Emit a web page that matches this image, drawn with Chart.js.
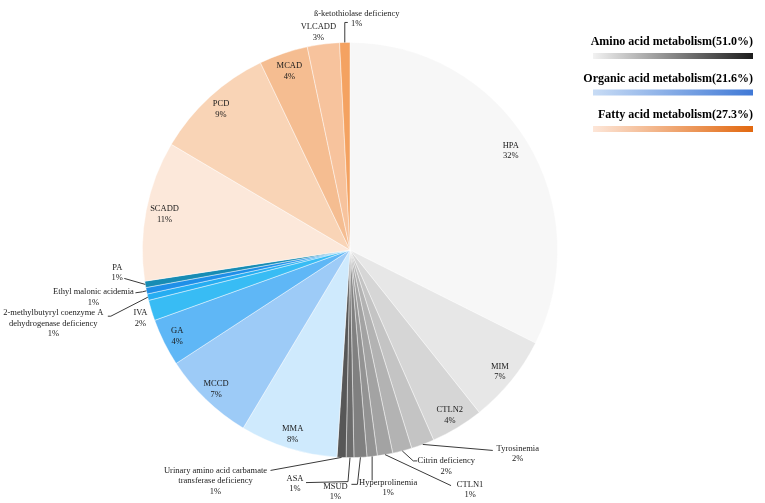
<!DOCTYPE html>
<html>
<head>
<meta charset="utf-8">
<script src="https://cdn.jsdelivr.net/npm/chart.js@4.4.0/dist/chart.umd.min.js"></script>
<style>
  html, body { margin: 0; padding: 0; background: #fff; }
  #wrap { width: 765px; height: 503px; position: relative; }
</style>
</head>
<body>
<div id="wrap"><canvas id="pie"></canvas></div>
<script>
// diseases, clockwise from 12 o'clock
const categories = [
  'HPA', 'MIM', 'CTLN2', 'Tyrosinemia', 'Citrin deficiency', 'CTLN1',
  'Hyperprolinemia', 'MSUD', 'ASA',
  'Urinary amino acid carbamate\ntransferase deficiency',
  'MMA', 'MCCD', 'GA', 'IVA',
  '2-methylbutyryl coenzyme A\ndehydrogenase deficiency',
  'Ethyl malonic acidemia', 'PA',
  'SCADD', 'PCD', 'MCAD', 'VLCADD', 'ß-ketothiolase deficiency'
];
// share of all cases, %
const shares = [
  32.4, 6.9, 4.1, 1.8, 1.5, 1.2, 0.8, 1.0, 0.6, 0.7,
  7.6, 7.2, 3.7, 1.6, 0.5, 0.5, 0.5,
  10.9, 9.4, 3.8, 2.5, 0.8
];
const groups = ['Amino acid metabolism', 'Organic acid metabolism', 'Fatty acid metabolism'];
const groupShares = [51.0, 21.6, 27.3];

const sliceColors = [
  '#f7f7f7', '#e7e7e7', '#d6d6d6', '#c4c4c4', '#b3b3b3', '#a3a3a3',
  '#939393', '#808080', '#6c6c6c', '#575757',
  '#cfeafd', '#9dcbf7', '#5fb7f6', '#38bcf4', '#26adf1', '#1f8fe8', '#178cb4',
  '#fce8da', '#f9d4b6', '#f5bd91', '#f7c39d', '#f4a261'
];
const groupRamps = [['#f2f2f2', '#1c1c1c'], ['#c8dcf5', '#4079d6'], ['#fde6d8', '#e2680f']];

// k: label inside at k * radius; otherwise at/path are offsets from the slice's outer edge midpoint
const placement = [
  {k: 0.91}, {k: 0.93}, {k: 0.93},
  {at: [95, 4], path: [[70, 6]]},
  {at: [44, 10], path: [[11, 10], [15, 10]]},
  {at: [85, 30], path: [[66, 31]]},
  {at: [16, 26], path: [[0, 24]]},
  {at: [-25, 29], path: [[-3, 27], [-9, 27]]},
  {at: [-55, 21], path: [[-2, 24], [-44, 25]]},
  {at: [-126, 13], path: [[-71, 13]]},
  {k: 0.93}, {k: 0.93}, {k: 0.93},
  {at: [-11, 2.5]},
  {at: [-94.5, 16], path: [[-37, 19], [-40, 19]]},
  {at: [-53, 1], path: [[-4, 1], [-11, 2]]},
  {at: [-28, -17], path: [[-21, -6]]},
  {k: 0.91}, {k: 0.92}, {k: 0.91},
  {at: [-5, -17]},
  {at: [12, -29], path: [[0, -20], [3, -20]]}
];

const LH = 10.5;

const sliceLabels = {
  id: 'sliceLabels',
  afterDatasetsDraw(chart) {
    const ctx = chart.ctx;
    const meta = chart.getDatasetMeta(0);
    const total = shares.reduce((a, b) => a + b, 0);
    ctx.save();
    ctx.font = '8.5px "Liberation Serif"';
    ctx.fillStyle = '#1a1a1a';
    ctx.strokeStyle = '#3a3a3a';
    ctx.lineWidth = 1;
    ctx.textAlign = 'center';
    ctx.textBaseline = 'middle';
    meta.data.forEach((arc, i) => {
      const {x, y, startAngle, endAngle, outerRadius} =
        arc.getProps(['x', 'y', 'startAngle', 'endAngle', 'outerRadius'], true);
      const mid = (startAngle + endAngle) / 2;
      const lines = categories[i].split('\n').concat(Math.round(shares[i] / total * 100) + '%');
      const p = placement[i];
      let lx, ly;
      if (p.k) {
        lx = x + Math.cos(mid) * outerRadius * p.k;
        ly = y + Math.sin(mid) * outerRadius * p.k - (lines.length - 1) * LH / 2;
      } else {
        const ex = x + Math.cos(mid) * outerRadius;
        const ey = y + Math.sin(mid) * outerRadius;
        if (p.path) {
          ctx.beginPath();
          ctx.moveTo(ex, ey);
          p.path.forEach(([dx, dy]) => ctx.lineTo(ex + dx, ey + dy));
          ctx.stroke();
        }
        lx = ex + p.at[0];
        ly = ey + p.at[1];
      }
      lines.forEach((t, j) => ctx.fillText(t, lx, ly + j * LH));
    });
    ctx.restore();
  }
};

const groupLegend = {
  id: 'groupLegend',
  afterDraw(chart) {
    const ctx = chart.ctx;
    ctx.save();
    ctx.font = 'bold 12px "Liberation Serif"';
    ctx.textAlign = 'right';
    ctx.textBaseline = 'middle';
    groups.forEach((g, i) => {
      const ty = 42 + i * 36.5;
      ctx.fillStyle = '#000';
      ctx.fillText(g + '(' + groupShares[i].toFixed(1) + '%)', 753, ty);
      const grad = ctx.createLinearGradient(593, 0, 753, 0);
      grad.addColorStop(0, groupRamps[i][0]);
      grad.addColorStop(1, groupRamps[i][1]);
      ctx.fillStyle = grad;
      ctx.fillRect(593, ty + 11, 160, 6);
    });
    ctx.restore();
  }
};

new Chart(document.getElementById('pie'), {
  type: 'pie',
  data: {
    labels: categories,
    datasets: [{
      data: shares,
      backgroundColor: sliceColors,
      borderColor: 'rgba(255,255,255,0.55)',
      borderWidth: 0.8,
      hoverOffset: 0
    }]
  },
  options: {
    responsive: true,
    maintainAspectRatio: false,
    animation: false,
    events: [],
    layout: { padding: { left: 142, right: 207, top: 42, bottom: 45 } },
    plugins: {
      legend: { display: false },
      tooltip: { enabled: false }
    }
  },
  plugins: [sliceLabels, groupLegend]
});
</script>
</body>
</html>
